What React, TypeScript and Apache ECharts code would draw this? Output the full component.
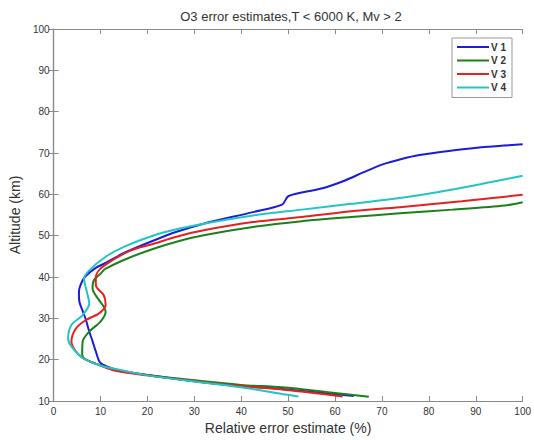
import React, { useEffect, useRef } from "react";
import * as echarts from "echarts";

const seriesNames = ["V 1", "V 2", "V 3", "V 4"];
const seriesColors = ["#1c1cd8", "#1b801b", "#e62020", "#22c4c4"];

// [relative error (%), altitude (km)]
const v1: number[][] = [
  [64, 11.2], [48.7, 12.9], [40, 13.6], [30, 14.8], [20, 16.3], [15, 17.2], [12.5, 17.9], [10, 19.2],
  [9, 22], [8.3, 24.5], [7.6, 26.8], [6.9, 29.6], [6.2, 31.8], [5.5, 34], [5.4, 36], [5.5, 37.2],
  [6.2, 39.2], [6.9, 40.3], [9, 42.2], [11.1, 43.4], [15, 45.8], [21.5, 48.9], [26.4, 51], [32, 52.9],
  [42.5, 55.7], [48.7, 57.5], [50.1, 59.6], [57.1, 61.4], [62, 63.3], [66, 65.3], [70.3, 67.3], [74, 68.5],
  [78, 69.5], [85, 70.6], [91.2, 71.4], [96, 71.8], [100, 72.1],
];
const v2: number[][] = [
  [67.2, 11], [58, 12.2], [48.7, 13.3], [40, 13.9], [30, 15], [20, 16.3], [13, 17.5], [10, 18.6],
  [6.9, 20], [6.1, 21.2], [6.2, 24.4], [7.6, 26.8], [10, 29.2], [11.1, 31.6], [10.6, 33], [9.7, 34.4],
  [8.3, 37.2], [8.6, 39.2], [10, 40.8], [11.1, 42], [16, 44.6], [21.5, 46.9], [26.4, 48.6], [32, 50.1],
  [42.5, 52.1], [52.9, 53.5], [63.4, 54.5], [73.8, 55.4], [85, 56.3], [96.2, 57.3], [100, 58.1],
];
const v3: number[][] = [
  [61.6, 11.1], [55, 12], [48.7, 12.8], [40, 13.6], [30, 14.8], [20, 16.2], [13, 17.4], [10, 18.6],
  [6.2, 20.4], [4.5, 22.4], [3.8, 24.4], [4.8, 27.6], [6.9, 29.6], [9.7, 31.2], [11.1, 33.2], [10.7, 35.6],
  [9, 38], [9, 40], [10.4, 42.4], [16, 46.2], [21.5, 48.1], [26.4, 49.8], [32, 51.3], [42.5, 53.3],
  [52.9, 54.5], [63.4, 55.9], [73.8, 56.9], [87, 58.3], [100, 59.9],
];
const v4: number[][] = [
  [52.2, 11.1], [48.7, 11.7], [40, 13.3], [30, 14.7], [20, 16.2], [15, 17.3], [10, 18.6], [6.2, 20.4],
  [3.8, 23.2], [3.1, 25.2], [3.8, 28.4], [6.2, 30.8], [7.6, 33.6], [7.1, 36.4], [6.5, 39.6], [7.6, 41.6],
  [11.1, 44.9], [15, 47.3], [21.5, 50.1], [26.4, 51.6], [32, 52.9], [42.5, 54.9], [52.9, 56.3], [63.4, 57.7],
  [73.8, 59.1], [85.7, 61.3], [93, 62.9], [100, 64.5],
];
const allSeries = [v1, v2, v3, v4];

const titleText = "O3 error estimates,T < 6000 K, Mv > 2";
const xLabel = "Relative error estimate (%)";
const yLabel = "Altitude (km)";

export default function App() {
  const ref = useRef<HTMLDivElement>(null);
  useEffect(() => {
    if (!ref.current) return;
    const chart = echarts.init(ref.current, null, { renderer: "svg" });
    const font = "Liberation Sans, Arial, sans-serif";
    const axisColor = "#8a8a8a";
    const common = {
      axisLine: { show: true, lineStyle: { color: axisColor, width: 1.2 } },
      axisTick: { show: true, inside: true, length: 5, lineStyle: { color: axisColor } },
      splitLine: { show: false },
    };
    chart.setOption({
      animation: false,
      backgroundColor: "#ffffff",
      title: {
        text: titleText,
        left: 286,
        textAlign: "center",
        top: 5,
        textStyle: { fontFamily: font, fontSize: 13, fontWeight: "normal", color: "#333" },
      },
      grid: { left: 47, right: 9, top: 29, bottom: 37, containLabel: false },
      legend: {
        orient: "vertical",
        left: 452,
        top: 38,
        icon: "rect",
        itemWidth: 32,
        itemHeight: 2,
        itemGap: 3.5,
        padding: [4, 6, 5, 5],
        borderColor: "#999",
        borderWidth: 1,
        backgroundColor: "#fff",
        textStyle: { fontFamily: font, fontSize: 10, fontWeight: "bold", color: "#333", padding: [0, 0, 0, -3] },
        data: seriesNames,
      },
      xAxis: [
        {
          type: "value", min: 0, max: 100, interval: 10, position: "bottom",
          ...common,
          axisLabel: { fontFamily: font, fontSize: 10, color: "#333", margin: 5 },
          name: xLabel, nameLocation: "middle", nameGap: 20,
          nameTextStyle: { fontFamily: font, fontSize: 14, color: "#333" },
        },
        {
          type: "value", min: 0, max: 100, interval: 10, position: "top",
          ...common, axisLabel: { show: false },
        },
      ],
      yAxis: [
        {
          type: "value", min: 10, max: 100, interval: 10, position: "left",
          ...common,
          axisLabel: { fontFamily: font, fontSize: 10, color: "#333", margin: 4 },
          name: yLabel, nameLocation: "middle", nameGap: 26,
          nameTextStyle: { fontFamily: font, fontSize: 14, color: "#333" },
        },
        {
          type: "value", min: 10, max: 100, interval: 10, position: "right",
          ...common, axisLabel: { show: false },
        },
      ],
      series: allSeries.map((d, i) => ({
        name: seriesNames[i],
        type: "line",
        data: d,
        symbol: "none",
        smooth: 0.3,
        lineStyle: { color: seriesColors[i], width: 2 },
        itemStyle: { color: seriesColors[i] },
      })),
    });
    return () => chart.dispose();
  }, []);
  return <div ref={ref} style={{ width: 534, height: 440, position: "absolute", left: 0, top: 0 }} />;
}
